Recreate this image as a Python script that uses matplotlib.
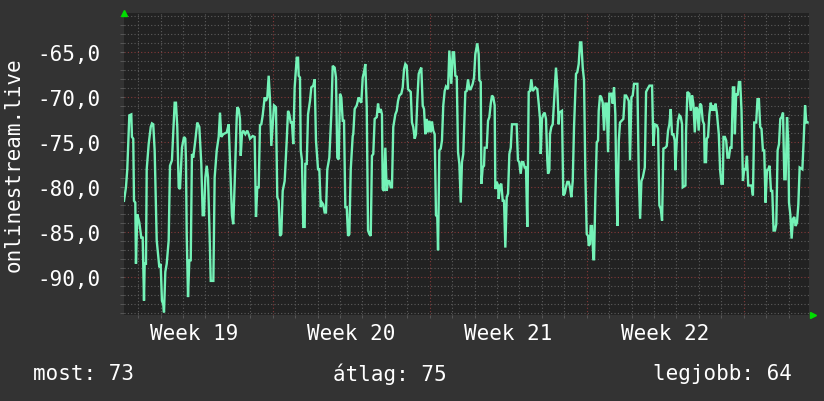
import matplotlib
matplotlib.use("Agg")
import matplotlib.pyplot as plt

# ---- data (hours since start of week 19, value) ----
hours = [8.9, 11.0, 12.4, 14.6, 16.7, 17.4, 18.8, 19.6, 21.0, 21.7, 23.1, 25.3, 27.4, 28.9, 30.3, 31.0, 32.4, 33.2,
         35.3, 37.5, 38.8, 40.2, 41.7, 43.9, 46.0, 46.7, 48.1, 49.5, 50.9, 51.7, 53.1, 54.6, 56.7, 58.1, 60.2, 63.1,
         64.5, 65.9, 67.4, 68.8, 70.9, 73.1, 74.5, 75.2, 76.0, 77.4, 78.8, 80.3, 81.6, 83.0, 85.2, 87.3, 89.5, 91.6,
         93.1, 94.5, 95.9, 97.4, 98.8, 100.2, 101.7, 104.5, 105.9, 108.1, 110.2, 111.6, 113.0, 115.1, 118.8, 120.9,
         122.3, 124.4, 125.8, 127.3, 129.5,
         130.1, 131.6, 133.0, 133.8, 135.1, 136.5, 138.7, 140.8, 142.3, 143.7, 146.6, 148.7, 150.1, 151.5, 153.0,
         154.4, 155.8, 157.3, 159.4, 160.8, 162.2, 163.7, 165.1, 166.5, 168.0, 169.4, 171.5, 172.9, 174.4, 175.8,
         177.2, 178.7, 180.8, 183.0, 184.4, 185.8, 187.3, 188.6, 190.0, 191.5, 193.7, 195.1, 195.8, 197.2, 198.0,
         199.3, 200.7, 202.2, 202.9, 204.4, 205.8, 207.9, 209.3, 211.4, 212.9, 214.3, 216.5, 217.9, 219.4, 220.7,
         222.1, 223.6, 225.0, 226.4, 228.6, 230.7, 232.2, 234.3, 235.7, 237.1, 238.6, 240.0, 241.4, 242.9, 244.3,
         245.7, 247.2, 248.6, 250.0, 251.5, 253.6,
         254.2, 255.7, 257.9, 260.0, 261.4, 262.8, 264.3, 265.7, 267.1, 268.6, 270.0, 271.4, 272.9, 274.2, 275.6,
         277.1, 279.3, 280.7, 282.1, 283.6, 284.9, 285.7, 287.1, 288.5, 290.0, 291.4, 292.8, 294.3, 295.6, 297.0,
         299.2, 300.7, 302.1, 303.5, 305.6, 307.1, 308.5, 309.9, 311.4, 312.8, 315.7, 317.0, 318.4, 319.9, 321.3,
         322.7, 324.2, 325.6, 327.0, 328.5, 329.9, 331.3, 332.8, 334.2, 335.6, 337.1, 338.4, 339.8, 341.3, 342.7,
         344.1, 344.9, 346.3, 347.8, 349.1, 350.5, 352.0, 353.4, 355.6, 357.0, 359.1, 360.6, 362.0, 363.4, 364.9,
         366.3, 367.7, 369.2, 370.5, 371.9, 374.1, 375.5, 377.0,
         378.4, 379.8, 382.0, 383.4, 384.8, 386.9, 388.4, 389.1, 390.6, 391.3, 392.7, 394.1, 394.8, 397.0, 398.4,
         399.8, 401.3, 402.6, 404.0, 405.5, 406.2, 407.7, 409.1, 409.8, 411.2, 412.6, 414.1, 415.5, 416.9, 418.4,
         419.8, 421.2, 422.7, 424.0, 429.0, 430.4, 431.8, 433.3, 434.7, 436.1, 437.6, 439.0, 440.4, 441.9, 443.3,
         444.7, 446.2, 447.6, 449.0, 451.1, 452.6, 454.0, 454.8, 456.1, 457.5, 459.0, 460.4, 461.8, 462.6, 464.0,
         464.7, 466.1, 467.6, 469.0, 471.1, 472.5, 474.0, 474.7, 477.5, 478.9, 480.4, 481.8, 483.2, 484.7, 486.1,
         487.5, 489.0, 490.4, 492.5, 493.9, 495.4, 496.8, 498.2, 499.7, 501.1,
         502.5, 504.0, 505.4, 506.1, 507.5, 508.2, 509.6, 511.1, 511.8, 513.2, 514.7, 516.1, 516.8, 518.2, 519.6,
         521.1, 522.5, 523.9, 525.4, 526.8, 528.2, 530.4, 531.8, 533.2, 534.6, 535.4, 536.8, 538.3, 539.6, 543.2,
         544.7, 546.1, 549.0, 550.3, 551.8, 553.2, 554.6, 558.2, 559.7, 561.1, 562.5, 564.0, 566.1, 567.5, 568.9,
         571.1, 573.9, 575.3, 576.8, 578.9, 580.3, 581.7, 583.2, 584.6, 586.0, 588.1, 589.6, 591.0, 592.4, 593.9,
         595.2, 596.7, 598.1, 598.8, 600.3, 601.7, 603.1, 604.6, 606.0, 606.7, 609.6, 610.3, 611.7, 613.8, 615.3,
         616.7, 618.1, 619.6, 621.0, 622.3, 623.8, 625.2,
         626.6, 628.1, 629.5, 630.2, 631.6, 632.4, 633.8, 635.2, 636.7, 638.1, 639.5, 641.0, 641.7, 643.2, 645.3,
         646.7, 648.1, 649.6, 650.3, 651.8, 653.2, 654.6, 656.1, 657.5, 658.9, 660.4, 661.8, 662.5, 663.9, 665.4,
         666.8, 668.2, 669.6, 671.1, 672.5, 673.9, 675.4, 676.8, 680.3, 681.8, 683.2, 685.3, 686.7, 688.2, 689.6,
         691.0, 692.5, 693.9, 695.3, 696.8, 698.2, 699.6, 701.1, 702.5, 703.9, 705.4, 706.8, 708.2, 709.7, 711.1,
         712.5, 714.0, 715.4, 716.8, 718.3, 719.7, 720.4, 721.8, 723.2, 724.7, 726.1, 727.5, 729.0, 730.4, 731.8,
         734.7, 736.1, 737.6, 738.9, 740.3]

values = [-81.5, -80.0, -78.0, -72.0, -71.9, -74.4, -74.6, -81.5, -81.7, -88.5, -83.0, -83.9, -85.6, -85.6, -92.6,
          -88.5, -88.5, -78.0, -75.2, -73.3, -72.9, -73.0, -75.9, -85.9, -88.1, -88.9, -88.5, -92.6, -93.0, -93.9,
          -89.4, -88.5, -85.9, -77.6, -77.0, -70.6, -70.6, -73.3, -80.0, -80.2, -75.6, -74.4, -74.6, -77.0, -85.2,
          -92.2, -88.1, -88.1, -76.3, -76.7, -74.8, -72.8, -73.3, -77.4, -83.1, -83.1, -78.9, -77.6, -78.9, -84.1,
          -90.4, -90.4, -78.9, -75.9, -74.4, -71.7, -74.4, -74.1, -73.9, -73.0, -77.0, -83.1, -84.1, -79.6, -72.2,
          -71.1, -71.3, -72.4, -76.5, -74.1, -73.7, -74.1, -73.7, -74.1, -74.6, -74.3, -74.4, -83.3, -80.0, -80.0,
          -73.1, -73.0, -72.0, -70.0, -70.4, -70.0, -67.6, -70.2, -75.4, -73.0, -70.9, -71.1, -81.1, -81.5, -85.4,
          -85.2, -80.4, -79.3, -74.8, -71.5, -71.9, -72.8, -72.8, -75.2, -68.9, -65.6, -65.6, -67.6, -67.8, -75.9,
          -77.0, -84.4, -84.4, -77.4, -77.4, -71.9, -70.4, -68.9, -68.7, -68.0, -74.8, -78.0, -78.0, -82.2, -81.7,
          -81.9, -82.8, -82.8, -78.0, -76.7, -71.9, -66.5, -66.7, -67.8, -76.7, -76.9, -69.6, -70.0, -72.6, -72.6,
          -82.2, -82.2, -85.4, -85.2, -78.0, -74.3,
          -74.1, -71.3, -70.9, -70.0, -70.4, -70.6, -67.8, -67.2, -66.3, -71.1, -84.8, -85.2, -85.4, -76.5, -76.3,
          -72.4, -72.2, -70.7, -71.7, -71.3, -71.9, -80.2, -80.4, -75.6, -80.4, -79.3, -79.3, -80.0, -80.0, -73.3,
          -71.9, -71.5, -70.4, -69.8, -69.6, -68.9, -66.9, -66.3, -66.5, -69.1, -69.4, -72.8, -73.3, -74.6, -74.1,
          -70.4, -67.4, -67.0, -66.7, -70.9, -71.3, -74.1, -72.4, -73.9, -72.6, -73.9, -72.7, -73.7, -74.1, -83.1,
          -83.3, -87.0, -75.9, -75.7, -74.8, -70.9, -69.3, -68.8, -69.1, -64.8, -68.5, -65.0, -65.0, -67.6, -67.7,
          -76.1, -77.4, -81.7, -77.2, -76.3, -69.4, -69.3, -68.0,
          -69.1, -69.1, -68.5, -67.8, -65.2, -64.0, -65.2, -68.1, -68.3, -79.6, -77.8, -77.6, -75.6, -75.6, -72.6,
          -72.2, -70.7, -69.8, -70.0, -70.9, -80.2, -79.4, -79.8, -81.3, -79.8, -79.6, -81.5, -81.5, -86.7, -81.1,
          -80.7, -76.3, -75.6, -73.0, -73.0, -77.0, -77.2, -78.5, -77.2, -77.2, -77.8, -77.8, -84.4, -69.4, -69.3,
          -68.0, -69.3, -69.1, -68.9, -69.1, -70.7, -72.4, -76.3, -72.4, -71.9, -71.7, -72.4, -77.0, -78.5, -78.1,
          -74.1, -73.3, -73.0, -70.4, -66.7, -68.9, -73.0, -71.7, -71.5, -80.9, -80.7, -80.0, -79.4, -79.4, -80.0,
          -81.1, -79.3, -73.3, -67.4, -67.2, -66.3, -63.9, -63.9, -66.7, -68.1,
          -78.5, -85.2, -85.4, -86.5, -86.3, -84.3, -84.3, -88.0, -88.0, -81.1, -75.0, -74.8, -71.5, -69.8, -70.0,
          -70.6, -73.7, -70.7, -70.7, -76.1, -69.6, -69.6, -70.7, -68.9, -71.9, -78.1, -84.3, -74.8, -72.8, -72.4,
          -69.8, -69.8, -70.4, -77.0, -70.0, -69.8, -68.5, -68.5, -78.9, -83.5, -79.3, -78.9, -77.8, -69.4, -69.1,
          -68.7, -68.7, -75.4, -73.0, -73.1, -73.5, -82.0, -82.4, -83.7, -75.7, -75.6, -75.4, -73.7, -73.0, -71.3,
          -74.1, -74.1, -74.8, -78.1, -74.8, -72.6, -72.0, -72.2, -73.0, -80.0, -79.8, -73.7, -69.4, -69.6, -71.5,
          -69.8, -70.7, -73.9, -71.1, -71.3, -73.7, -70.7,
          -70.9, -72.6, -73.0, -77.2, -77.2, -74.6, -74.4, -71.9, -70.6, -71.5, -70.9, -71.5, -70.7, -71.7, -74.1,
          -78.1, -79.6, -79.6, -74.4, -74.4, -74.8, -76.7, -76.7, -75.6, -75.6, -68.9, -68.9, -74.1, -69.6, -69.8,
          -68.3, -68.3, -71.5, -79.3, -78.0, -78.0, -76.5, -79.8, -79.8, -80.9, -72.8, -72.8, -70.2, -70.2, -73.3,
          -73.5, -75.9, -75.9, -81.7, -78.1, -78.0, -77.6, -80.4, -80.4, -84.8, -84.8, -84.1, -75.9, -75.2, -72.4,
          -72.2, -71.7, -79.1, -79.1, -72.2, -75.2, -81.7, -83.0, -85.7, -83.5, -83.3, -84.3, -83.9, -81.9, -77.8,
          -78.0, -74.8, -70.9, -72.8, -72.8]

week_starts = [0, 168, 336, 504, 672]
week_label_pos = [84, 252, 420, 588]
week_labels = ["Week 19", "Week 20", "Week 21", "Week 22"]
day_lines = [h for h in range(24, 744, 24) if h % 168 != 0]
y_major = [-90, -85, -80, -75, -70, -65]
y_major_labels = ["-90,0", "-85,0", "-80,0", "-75,0", "-70,0", "-65,0"]
y_minor = [v for v in range(-94, -60) if v % 5 != 0]
summary = ["most: 73", "átlag: 75", "legjobb: 64"]
y_title = "onlinestream.live"

# ---- style ----
OUTER = "#333333"
PLOT = "#222222"
LINE = "#74f2b7"
MINOR = "#5c5c5c"
MAJOR = "#843838"
TXT = "#ffffff"
FONT = "DejaVu Sans Mono"

fig = plt.figure(figsize=(8.24, 4.02), dpi=100, facecolor=OUTER)
ax = fig.add_axes([124 / 824, 1 - 316 / 402, (809 - 124) / 824, (316 - 14) / 402])
ax.set_facecolor(PLOT)
ax.set_xlim(8.9, 741.8)
ax.set_ylim(-94.19, -60.63)

dot = (0, (1, 2))
for h in day_lines:
    ax.axvline(h, color=MINOR, lw=0.8, ls=dot, zorder=1)
for h in week_starts:
    ax.axvline(h, color=MAJOR, lw=0.8, ls=dot, zorder=1)
for v in y_minor:
    ax.axhline(v, color=MINOR, lw=0.8, ls=dot, zorder=1)
for v in y_major:
    ax.axhline(v, color=MAJOR, lw=0.8, ls=dot, zorder=1)

ax.plot(hours, values, color=LINE, lw=1.7, zorder=3, solid_joinstyle="miter")

ax.set_yticks(y_major)
ax.set_yticklabels(y_major_labels)
ax.set_yticks(y_minor, minor=True)
ax.set_xticks(week_label_pos)
ax.set_xticklabels(week_labels)
ax.set_xticks([h for h in day_lines + week_starts if h > 8.9], minor=True)
ax.tick_params(axis="x", which="major", length=0, pad=6, labelsize=15, labelcolor=TXT)
ax.tick_params(axis="x", which="minor", length=2.5, color=MINOR)
ax.tick_params(axis="y", which="major", length=3, color=MINOR, pad=14, labelsize=15, labelcolor=TXT)
ax.tick_params(axis="y", which="minor", length=3, color=MINOR)
for lab in ax.get_xticklabels() + ax.get_yticklabels():
    lab.set_fontfamily(FONT)
for s in ax.spines.values():
    s.set_visible(False)

# axis arrows
ax.plot([0], [1], transform=ax.transAxes, marker="^", ms=5, color="#00dd00",
        clip_on=False, zorder=5)
ax.plot([1.0065], [0], transform=ax.transAxes, marker=">", ms=5, color="#00dd00",
        clip_on=False, zorder=5)

fig.text(14 / 824, 1 - 165 / 402, y_title, rotation=90, ha="center", va="center",
         fontsize=15, color=TXT, family=FONT)
fig.text(33 / 824, 1 - 374 / 402, summary[0], ha="left", va="center", fontsize=15, color=TXT, family=FONT)
fig.text(333 / 824, 1 - 374 / 402, summary[1], ha="left", va="center", fontsize=15, color=TXT, family=FONT)
fig.text(792 / 824, 1 - 374 / 402, summary[2], ha="right", va="center", fontsize=15, color=TXT, family=FONT)

fig.savefig("out.png", dpi=100, facecolor=OUTER)
